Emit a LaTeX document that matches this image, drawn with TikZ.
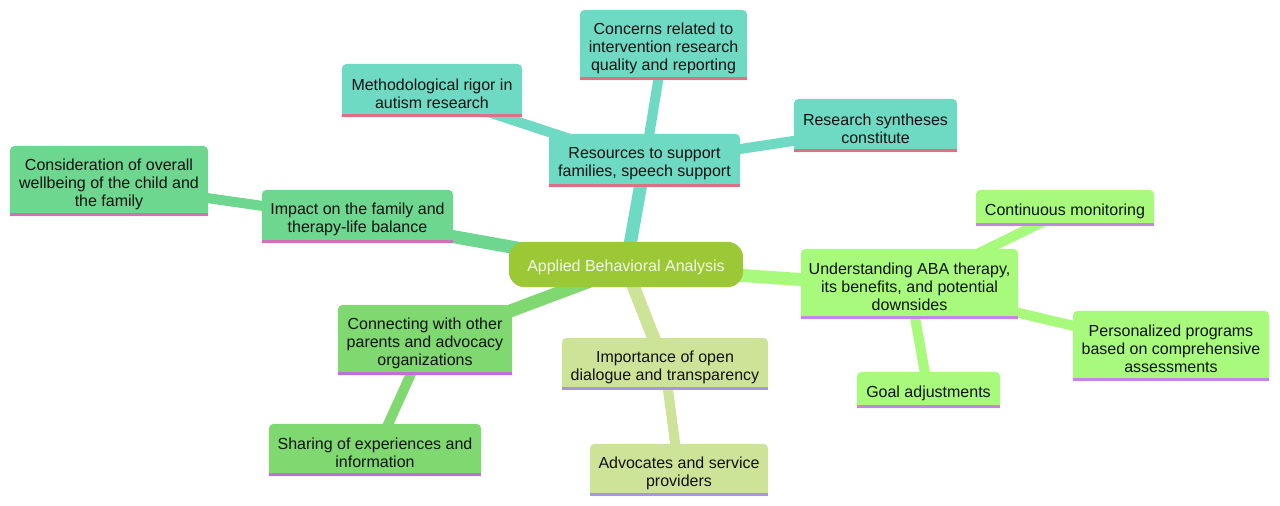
\documentclass[tikz,border=0pt]{standalone}
\usepackage{fontspec}
\setmainfont{Liberation Sans}
\usetikzlibrary{backgrounds}
\definecolor{cRoot}{RGB}{155,200,52}
\definecolor{cRootTxt}{RGB}{242,250,230}
\definecolor{cTeal}{RGB}{111,218,196}
\definecolor{cTealLn}{RGB}{222,112,132}
\definecolor{cImp}{RGB}{109,214,143}
\definecolor{cImpLn}{RGB}{214,110,190}
\definecolor{cUnd}{RGB}{168,250,124}
\definecolor{cUndLn}{RGB}{196,132,232}
\definecolor{cCon}{RGB}{127,216,112}
\definecolor{cConLn}{RGB}{192,112,212}
\definecolor{cOpn}{RGB}{205,228,152}
\definecolor{cOpnLn}{RGB}{166,150,226}
\definecolor{cTxt}{RGB}{17,17,17}
\tikzset{
  mm/.style={inner sep=0pt, align=center, text=cTxt, yshift=-3pt,
    font=\fontsize{16}{18}\selectfont},
  edgeA/.style={line width=13pt},
  edgeB/.style={line width=10pt},
}
% #1 name, #2 fill, #3 line colour (node is drawn 3pt lower than its box)
\newcommand\mmshape[3]{%
  \fill[#2] ([yshift=3pt]#1.south west) [rounded corners=5pt] -- ([yshift=3pt]#1.north west) -- ([yshift=3pt]#1.north east) [sharp corners] -- ([yshift=3pt]#1.south east) -- cycle;
  \draw[#3, line width=3pt] ([yshift=4.5pt]#1.south west) -- ([yshift=4.5pt]#1.south east);
}
\begin{document}
\begin{tikzpicture}[x=1pt,y=-1pt]
\useasboundingbox (0,0) rectangle (1280,506);

\node[mm, text=cRootTxt, minimum width=234pt, minimum height=45pt] (root) at (626,264.5) {Applied Behavioral Analysis};

\node[mm, minimum width=191pt, minimum height=53pt] (res) at (644.5,160.5) {Resources to support\\families, speech support};
\node[mm, minimum width=167pt, minimum height=70pt] (conc) at (663.5,45) {Concerns related to\\intervention research\\quality and reporting};
\node[mm, minimum width=180pt, minimum height=53pt] (meth) at (432,90.5) {Methodological rigor in\\autism research};
\node[mm, minimum width=163pt, minimum height=53pt] (syn) at (875.5,125.5) {Research syntheses\\constitute};

\node[mm, minimum width=191pt, minimum height=53pt] (imp) at (357.5,216.5) {Impact on the family and\\therapy-life balance};
\node[mm, minimum width=198pt, minimum height=70pt] (cons) at (109,181) {Consideration of overall\\wellbeing of the child and\\the family};

\node[mm, minimum width=217pt, minimum height=70pt] (und) at (909.5,284) {Understanding ABA therapy,\\its benefits, and potential\\downsides};
\node[mm, minimum width=178pt, minimum height=36pt] (mon) at (1065,208) {Continuous monitoring};
\node[mm, minimum width=196pt, minimum height=70pt] (pers) at (1171,346) {Personalized programs\\based on comprehensive\\assessments};
\node[mm, minimum width=143pt, minimum height=36pt] (goal) at (928.5,390) {Goal adjustments};

\node[mm, minimum width=174pt, minimum height=70pt] (conn) at (425,340) {Connecting with other\\parents and advocacy\\organizations};
\node[mm, minimum width=212pt, minimum height=52pt] (shar) at (375,450) {Sharing of experiences and\\information};

\node[mm, minimum width=206pt, minimum height=52pt] (open) at (665,364) {Importance of open\\dialogue and transparency};
\node[mm, minimum width=178pt, minimum height=52pt] (adv) at (679,470) {Advocates and service\\providers};

\begin{scope}[on background layer]
  % edges
  \draw[edgeB, cTeal] (res.center) -- (conc.center);
  \draw[edgeB, cTeal] (res.center) -- (meth.center);
  \draw[edgeB, cTeal] (res.center) -- (syn.center);
  \draw[edgeB, cImp] (imp.center) -- (cons.center);
  \draw[edgeB, cUnd] (und.center) -- (mon.center);
  \draw[edgeB, cUnd] (und.center) -- (pers.center);
  \draw[edgeB, cUnd] (und.center) -- (goal.center);
  \draw[edgeB, cCon] (conn.center) -- (shar.center);
  \draw[edgeB, cOpn] (open.center) -- (adv.center);
  \draw[edgeA, cTeal] (root.center) -- (res.center);
  \draw[edgeA, cImp] (root.center) -- (imp.center);
  \draw[edgeA, cUnd] (root.center) -- (und.center);
  \draw[edgeA, cCon] (root.center) -- (conn.center);
  \draw[edgeA, cOpn] (root.center) -- (open.center);
  % node shapes
  \fill[cRoot, rounded corners=16pt] ([yshift=3pt]root.south west) rectangle ([yshift=3pt]root.north east);
  \mmshape{res}{cTeal}{cTealLn}
  \mmshape{conc}{cTeal}{cTealLn}
  \mmshape{meth}{cTeal}{cTealLn}
  \mmshape{syn}{cTeal}{cTealLn}
  \mmshape{imp}{cImp}{cImpLn}
  \mmshape{cons}{cImp}{cImpLn}
  \mmshape{und}{cUnd}{cUndLn}
  \mmshape{mon}{cUnd}{cUndLn}
  \mmshape{pers}{cUnd}{cUndLn}
  \mmshape{goal}{cUnd}{cUndLn}
  \mmshape{conn}{cCon}{cConLn}
  \mmshape{shar}{cCon}{cConLn}
  \mmshape{open}{cOpn}{cOpnLn}
  \mmshape{adv}{cOpn}{cOpnLn}
\end{scope}
\end{tikzpicture}
\end{document}
